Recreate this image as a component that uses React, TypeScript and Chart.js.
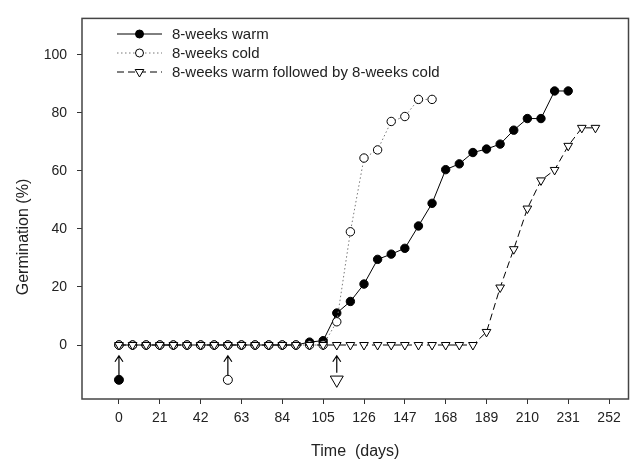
import React, { useEffect, useRef } from 'react';
import { Chart, registerables } from 'chart.js';

Chart.register(...registerables);

// ---- data ----
const warmDays = [0, 7, 14, 21, 28, 35, 42, 49, 56, 63, 70, 77, 84, 91, 98, 105, 112, 119, 126, 133, 140, 147, 154, 161, 168, 175, 182, 189, 196, 203, 210, 217, 224, 231];
const warmValues = [0, 0, 0, 0, 0, 0, 0, 0, 0, 0, 0, 0, 0, 0, 1, 1.5, 11, 15, 21, 29.5, 31.3, 33.3, 41, 48.8, 60.4, 62.4, 66.3, 67.5, 69.2, 74, 78, 78, 87.5, 87.5];

const coldDays = [0, 7, 14, 21, 28, 35, 42, 49, 56, 63, 70, 77, 84, 91, 98, 105, 112, 119, 126, 133, 140, 147, 154, 161];
const coldValues = [0, 0, 0, 0, 0, 0, 0, 0, 0, 0, 0, 0, 0, 0, 0, 0, 8, 39, 64.4, 67.2, 77, 78.7, 84.6, 84.6];

const warmColdDays = [0, 7, 14, 21, 28, 35, 42, 49, 56, 63, 70, 77, 84, 91, 98, 105, 112, 119, 126, 133, 140, 147, 154, 161, 168, 175, 182, 189, 196, 203, 210, 217, 224, 231, 238, 245];
const warmColdValues = [0, 0, 0, 0, 0, 0, 0, 0, 0, 0, 0, 0, 0, 0, 0, 0, 0, 0, 0, 0, 0, 0, 0, 0, 0, 0, 0, 4.5, 19.8, 33, 47, 56.7, 60.3, 68.6, 74.8, 74.8];

// start of each treatment (marker below the zero line, with arrow)
const startDays = [0, 56, 112];
const startValue = -12;
const arrowTopValue = -3.7;

const xTicks = [0, 21, 42, 63, 84, 105, 126, 147, 168, 189, 210, 231, 252];
const yTicks = [0, 20, 40, 60, 80, 100];

const seriesLabels = ['8-weeks warm', '8-weeks cold', '8-weeks warm followed by 8-weeks cold'];

const FONT = "'Liberation Sans', Arial, sans-serif";

const pts = (xs: number[], ys: number[]) => xs.map((x, i) => ({ x, y: ys[i] }));

export default function App() {
  const ref = useRef<HTMLCanvasElement | null>(null);

  useEffect(() => {
    if (!ref.current) return;

    const frame = {
      id: 'frame',
      beforeDatasetsDraw(chart: any) {
        const { ctx, chartArea: a } = chart;
        ctx.save();
        ctx.strokeStyle = '#444';
        ctx.lineWidth = 1.5;
        ctx.strokeRect(a.left, a.top, a.right - a.left, a.bottom - a.top);
        ctx.restore();
      },
    };

    const arrows = {
      id: 'arrows',
      afterDatasetsDraw(chart: any) {
        const { ctx } = chart;
        const xs = chart.scales.x;
        const ys = chart.scales.y;
        ctx.save();
        ctx.strokeStyle = '#000';
        ctx.lineWidth = 1.2;
        startDays.forEach((d, i) => {
          const x = xs.getPixelForValue(d);
          const yTop = ys.getPixelForValue(arrowTopValue);
          const yBot = ys.getPixelForValue(startValue) - (i === 2 ? 7 : 4.5);
          ctx.beginPath();
          ctx.moveTo(x, yBot);
          ctx.lineTo(x, yTop);
          ctx.moveTo(x - 4, yTop + 6);
          ctx.lineTo(x, yTop);
          ctx.lineTo(x + 4, yTop + 6);
          ctx.stroke();
        });
        ctx.restore();
      },
    };

    const legendAndTitles = {
      id: 'legendAndTitles',
      afterDraw(chart: any) {
        const { ctx, chartArea: a } = chart;
        ctx.save();
        // legend
        const rows = [34, 53, 72];
        const x0 = 117, x1 = 162, xm = 139.5, xt = 172;
        ctx.font = `15px ${FONT}`;
        ctx.textBaseline = 'middle';
        ctx.textAlign = 'left';
        rows.forEach((y, i) => {
          ctx.beginPath();
          ctx.lineWidth = 1;
          if (i === 0) { ctx.setLineDash([]); ctx.strokeStyle = '#000'; }
          if (i === 1) { ctx.setLineDash([1.5, 2.5]); ctx.strokeStyle = '#777'; }
          if (i === 2) { ctx.setLineDash([7, 4]); ctx.strokeStyle = '#000'; }
          ctx.moveTo(x0, y);
          ctx.lineTo(x1, y);
          ctx.stroke();
          ctx.setLineDash([]);
          ctx.strokeStyle = '#000';
          ctx.beginPath();
          if (i === 2) {
            const r = 5;
            ctx.moveTo(xm, y + r);
            ctx.lineTo(xm - r * Math.sin(Math.PI / 3), y - r / 2);
            ctx.lineTo(xm + r * Math.sin(Math.PI / 3), y - r / 2);
            ctx.closePath();
          } else {
            ctx.arc(xm, y, 4, 0, Math.PI * 2);
          }
          ctx.fillStyle = i === 0 ? '#000' : '#fff';
          ctx.fill();
          ctx.stroke();
          ctx.fillStyle = '#222';
          ctx.fillText(seriesLabels[i], xt, y + 1);
        });
        // axis titles
        ctx.fillStyle = '#222';
        ctx.font = `16px ${FONT}`;
        ctx.textAlign = 'center';
        ctx.textBaseline = 'middle';
        ctx.fillText('Time  (days)', (a.left + a.right) / 2, 452);
        ctx.save();
        ctx.translate(24, 237);
        ctx.rotate(-Math.PI / 2);
        ctx.fillText('Germination (%)', 0, 0);
        ctx.restore();
        ctx.restore();
      },
    };

    const chart = new Chart(ref.current, {
      type: 'line',
      data: {
        datasets: [
          {
            label: seriesLabels[0],
            data: pts(warmDays, warmValues),
            borderColor: '#000',
            borderWidth: 1,
            pointStyle: 'circle',
            pointRadius: 4.2,
            pointBackgroundColor: '#000',
            pointBorderColor: '#000',
            pointBorderWidth: 1,
            order: 3,
          },
          {
            label: seriesLabels[1],
            data: pts(coldDays, coldValues),
            borderColor: '#777',
            borderWidth: 1,
            borderDash: [1.5, 2.5],
            pointStyle: 'circle',
            pointRadius: 4.2,
            pointBackgroundColor: '#fff',
            pointBorderColor: '#000',
            pointBorderWidth: 1,
            order: 2,
          },
          {
            label: seriesLabels[2],
            data: pts(warmColdDays, warmColdValues),
            borderColor: '#000',
            borderWidth: 1,
            borderDash: [7, 4],
            pointStyle: 'triangle',
            pointRotation: 180,
            pointRadius: 5,
            pointBackgroundColor: '#fff',
            pointBorderColor: '#000',
            pointBorderWidth: 1,
            order: 1,
          },
          {
            label: 'start',
            data: startDays.map((d) => ({ x: d, y: startValue })),
            showLine: false,
            pointStyle: ['circle', 'circle', 'triangle'] as any,
            pointRotation: [0, 0, 180] as any,
            pointRadius: [4.5, 4.5, 7.5] as any,
            pointBackgroundColor: ['#000', '#fff', '#fff'] as any,
            pointBorderColor: '#000',
            pointBorderWidth: 1,
            order: 0,
          },
        ],
      },
      options: {
        animation: false,
        responsive: true,
        maintainAspectRatio: false,
        layout: { padding: { left: 0, top: 12, right: 1, bottom: 0 } },
        plugins: {
          legend: { display: false },
          tooltip: { enabled: false },
        },
        scales: {
          x: {
            type: 'linear',
            min: -19,
            max: 262,
            afterBuildTicks: (s: any) => { s.ticks = xTicks.map((v) => ({ value: v })); },
            afterFit: (s: any) => { s.height = 64; },
            border: { display: false },
            grid: { drawOnChartArea: false, drawTicks: true, tickLength: 5, color: '#333', lineWidth: 1 },
            ticks: { font: { family: FONT, size: 14 }, color: '#222', padding: 6, maxRotation: 0, autoSkip: false },
          },
          y: {
            type: 'linear',
            min: -18.6,
            max: 112.5,
            afterBuildTicks: (s: any) => { s.ticks = yTicks.map((v) => ({ value: v })); },
            afterFit: (s: any) => { s.width = 82; },
            border: { display: false },
            grid: { drawOnChartArea: false, drawTicks: true, tickLength: 5, color: '#333', lineWidth: 1 },
            ticks: { font: { family: FONT, size: 14 }, color: '#222', padding: 10 },
          },
        },
      },
      plugins: [frame, arrows, legendAndTitles],
    });

    return () => chart.destroy();
  }, []);

  return (
    <div style={{ position: 'absolute', left: 0, top: 0, width: 637, height: 463, background: '#fff' }}>
      <canvas ref={ref} />
    </div>
  );
}
